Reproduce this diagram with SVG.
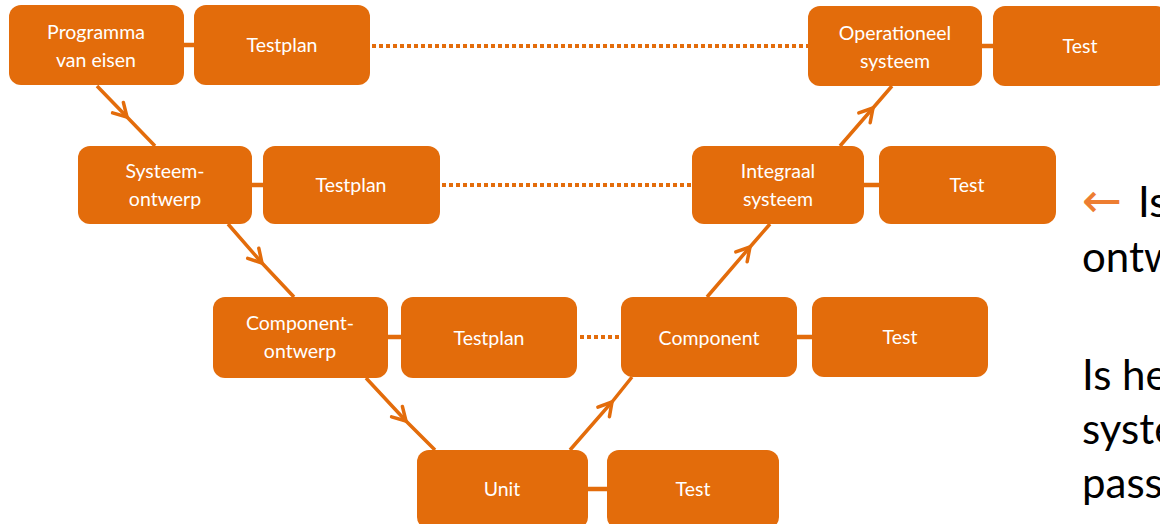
<svg xmlns="http://www.w3.org/2000/svg" width="1160" height="524" viewBox="0 0 1160 524">
  <defs>
    <style>
      .box { fill: #E36C0B; }
      .lbl { fill: #FFFFFF; font-family: Lato, "Open Sans", "Liberation Sans", sans-serif; font-size: 19.5px; text-anchor: middle; }
      .link { stroke: #E36C0B; stroke-width: 4.5; fill: none; }
      .dot { stroke: #E36C0B; stroke-width: 4; fill: none; stroke-dasharray: 4 3; }
      .flow { stroke: #E36C0B; stroke-width: 3.5; fill: none; marker-mid: url(#chev); }
      .side { fill: #000000; font-family: Lato, "Open Sans", "Liberation Sans", sans-serif; font-size: 42px; }
    </style>
    <marker id="chev" markerUnits="userSpaceOnUse" markerWidth="40" markerHeight="40" refX="0" refY="0" viewBox="-20 -20 40 40" orient="auto" overflow="visible">
      <path d="M -13 -7.5 L 0 0 L -13 7.5" fill="none" stroke="#E36C0B" stroke-width="3.5" stroke-linecap="round" stroke-linejoin="round"/>
    </marker>
  </defs>

  <g id="connectors">
    <line class="link" x1="182" y1="45" x2="196" y2="45"/>
    <line class="link" x1="980" y1="46" x2="995" y2="46"/>
    <line class="link" x1="250" y1="185" x2="265" y2="185"/>
    <line class="link" x1="862" y1="185" x2="881" y2="185"/>
    <line class="link" x1="386" y1="337" x2="403" y2="337"/>
    <line class="link" x1="795" y1="337" x2="814" y2="337"/>
    <line class="link" x1="586" y1="489" x2="609" y2="489"/>
    <line class="dot" x1="372" y1="46" x2="808" y2="46"/>
    <line class="dot" x1="442" y1="185" x2="692" y2="185"/>
    <line class="dot" x1="580" y1="337" x2="621" y2="337"/>
    <path class="flow" d="M 97 86 L 127 117 L 155 146"/>
    <path class="flow" d="M 228 224 L 262 263 L 294 297"/>
    <path class="flow" d="M 366 378 L 406 421 L 435 450"/>
    <path class="flow" d="M 570 450 L 612 402 L 632 377"/>
    <path class="flow" d="M 707 297 L 750 247 L 770 224"/>
    <path class="flow" d="M 840 146 L 873 108 L 892 86"/>
  </g>

  <g id="programma">
    <rect class="box" x="9" y="5" width="175" height="80" rx="12"/>
    <text class="lbl" x="96" y="39">Programma</text>
    <text class="lbl" x="96" y="67">van eisen</text>
  </g>
  <g id="testplan1">
    <rect class="box" x="194" y="5" width="176" height="80" rx="12"/>
    <text class="lbl" x="282" y="52">Testplan</text>
  </g>
  <g id="operationeel">
    <rect class="box" x="808" y="6" width="174" height="80" rx="12"/>
    <text class="lbl" x="895" y="40">Operationeel</text>
    <text class="lbl" x="895" y="68">systeem</text>
  </g>
  <g id="test1">
    <rect class="box" x="993" y="6" width="175" height="80" rx="12"/>
    <text class="lbl" x="1080" y="53">Test</text>
  </g>

  <g id="systeemontwerp">
    <rect class="box" x="78" y="146" width="174" height="78" rx="12"/>
    <text class="lbl" x="165" y="178">Systeem-</text>
    <text class="lbl" x="165" y="206">ontwerp</text>
  </g>
  <g id="testplan2">
    <rect class="box" x="263" y="146" width="177" height="78" rx="12"/>
    <text class="lbl" x="351" y="192">Testplan</text>
  </g>
  <g id="integraal">
    <rect class="box" x="692" y="146" width="172" height="78" rx="12"/>
    <text class="lbl" x="778" y="178">Integraal</text>
    <text class="lbl" x="778" y="206">systeem</text>
  </g>
  <g id="test2">
    <rect class="box" x="879" y="146" width="177" height="78" rx="12"/>
    <text class="lbl" x="967" y="192">Test</text>
  </g>

  <g id="componentontwerp">
    <rect class="box" x="213" y="297" width="175" height="81" rx="12"/>
    <text class="lbl" x="300" y="330">Component-</text>
    <text class="lbl" x="300" y="358">ontwerp</text>
  </g>
  <g id="testplan3">
    <rect class="box" x="401" y="297" width="176" height="81" rx="12"/>
    <text class="lbl" x="489" y="345">Testplan</text>
  </g>
  <g id="component">
    <rect class="box" x="621" y="297" width="176" height="80" rx="12"/>
    <text class="lbl" x="709" y="345">Component</text>
  </g>
  <g id="test3">
    <rect class="box" x="812" y="297" width="176" height="80" rx="12"/>
    <text class="lbl" x="900" y="344">Test</text>
  </g>

  <g id="unit">
    <rect class="box" x="417" y="450" width="171" height="79" rx="12"/>
    <text class="lbl" x="502" y="496">Unit</text>
  </g>
  <g id="test4">
    <rect class="box" x="607" y="450" width="172" height="79" rx="12"/>
    <text class="lbl" x="693" y="496">Test</text>
  </g>

  <g id="side-text">
    <text x="1082" y="217" font-family="'DejaVu Sans', sans-serif" font-size="48" fill="#ED7D31">←</text>
    <text class="side" x="1138" y="217">Is</text>
    <text class="side" x="1082" y="272">ontw</text>
    <text class="side" x="1082" y="390">Is he</text>
    <text class="side" x="1082" y="444">syste</text>
    <text class="side" x="1082" y="498">pass</text>
  </g>
</svg>
